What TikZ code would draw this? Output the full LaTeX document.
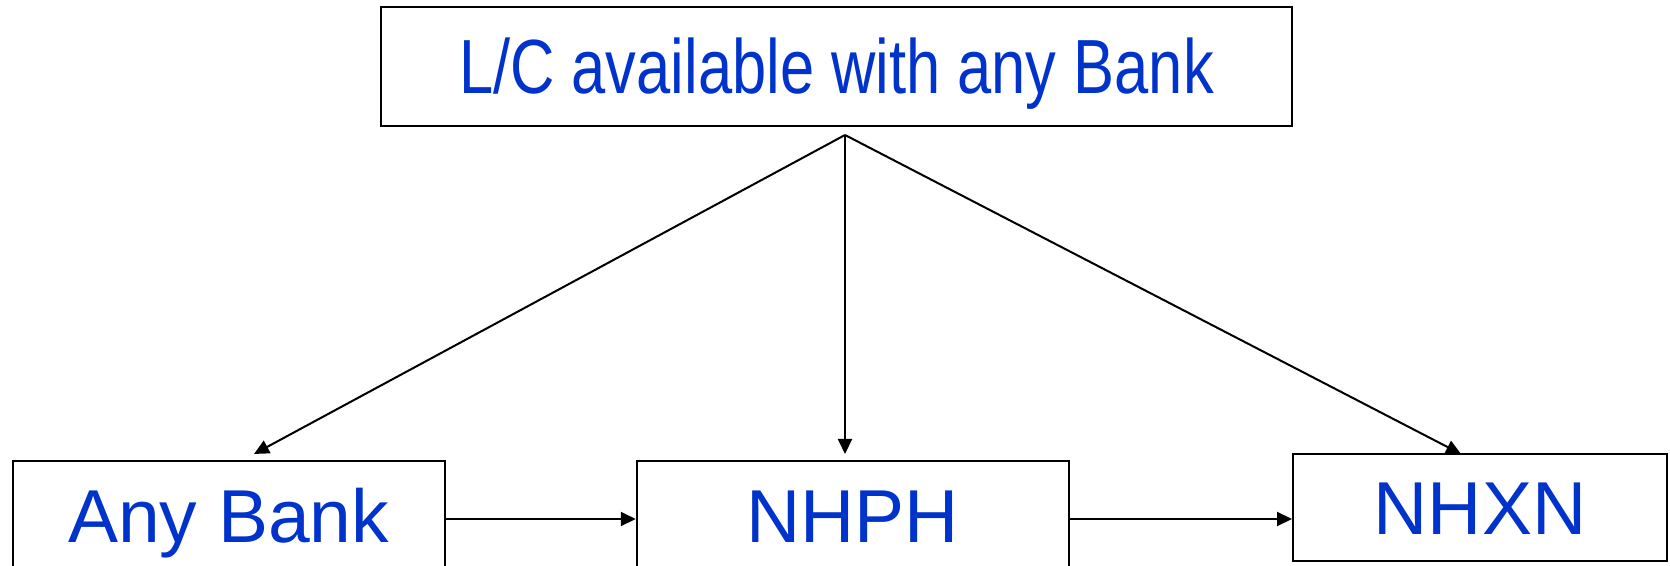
\documentclass[tikz,border=0pt]{standalone}
\usepackage{fontspec}
\setmainfont{Liberation Sans}
\newfontfamily\condensedfont[FakeStretch=0.8]{Liberation Sans}
\usetikzlibrary{arrows.meta}
\definecolor{labelblue}{RGB}{0,51,204}
\tikzset{
  box/.style={draw=black, line width=1pt, fill=white, inner sep=0pt,
    text=labelblue, font=\fontsize{37.5pt}{45pt}\selectfont,
    text height=26.9pt, text depth=0pt},
  flow/.style={line width=1pt, -{Triangle[length=7.5pt,width=7pt]}}
}
\begin{document}
\begin{tikzpicture}[x=0.5pt, y=-0.5pt]
\useasboundingbox (0,0) rectangle (1670,566);
\clip (0,0) rectangle (1670,566);

% boxes
\node[box, minimum width=455.5pt, minimum height=59.5pt,
      font=\fontsize{38.4pt}{46pt}\condensedfont, text height=27.5pt]
      (lc) at (836.5,66.5) {L/C available with any Bank};
\node[box, minimum width=216.25pt, minimum height=55pt] (anyb) at (228.75,516) {Any Bank};
\node[box, minimum width=216pt, minimum height=55pt] (nhph) at (852.75,516) {NHPH};
\node[box, minimum width=187pt, minimum height=53.5pt] (nhxn) at (1480,507.5) {NHXN};

% fan-out point and arrow ends
\coordinate (split) at (845,135);
\coordinate (toA) at (254,454);
\coordinate (toP) at (845,454);
\coordinate (toX) at (1461,454);

\draw[flow] (split) -- (toA);
\draw[flow] (split) -- (toP);
\draw[flow] (split) -- (toX);

% chain along the bottom row
\draw[flow] (anyb.east |- 0,519) -- (nhph.west |- 0,519);
\draw[flow] (nhph.east |- 0,519) -- (nhxn.west |- 0,519);
\end{tikzpicture}
\end{document}
